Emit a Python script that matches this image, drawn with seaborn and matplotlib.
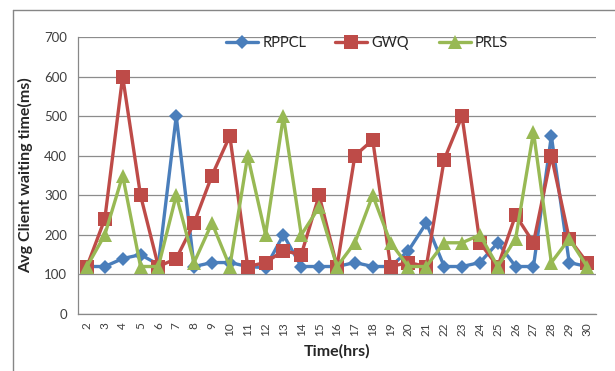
import matplotlib
matplotlib.use("Agg")
import matplotlib.pyplot as plt
import seaborn as sns
import pandas as pd
from matplotlib.lines import Line2D
from matplotlib.ticker import FixedLocator

hours = list(range(2, 31))
rppcl = [120, 120, 140, 150, 125, 500, 120, 130, 130, 120, 117, 200, 120, 120,
         120, 130, 120, 120, 160, 230, 120, 120, 130, 180, 120, 120, 450, 130, 120]
gwq = [120, 240, 600, 300, 120, 140, 230, 350, 450, 120, 130, 160, 150, 300,
       120, 400, 440, 120, 130, 120, 390, 500, 180, 120, 250, 180, 400, 190, 130]
prls = [120, 200, 350, 120, 120, 300, 130, 230, 120, 400, 200, 500, 200, 270,
        120, 180, 300, 180, 120, 120, 180, 180, 200, 120, 190, 460, 130, 190, 120]
series_names = ["RPPCL", "GWQ", "PRLS"]

df = pd.DataFrame({"Time": hours, "RPPCL": rppcl, "GWQ": gwq, "PRLS": prls})
long = df.melt(id_vars="Time", var_name="Series", value_name="Wait")

sns.set_style("white")
plt.rcParams["font.family"] = ["Lato", "DejaVu Sans"]

fig = plt.figure(figsize=(6.15, 3.71), dpi=100)
ax = fig.add_axes([78/615, 1-314/371, (596-78)/615, (314-37)/371])

palette = {"RPPCL": "#4A7EBB", "GWQ": "#BE4B48", "PRLS": "#98B954"}
markers = {"RPPCL": "D", "GWQ": "s", "PRLS": "^"}
sizes_m = {"RPPCL": 7.5, "GWQ": 10, "PRLS": 10.5}
for name in series_names:
    sub = long[long["Series"] == name]
    sns.lineplot(data=sub, x="Time", y="Wait", ax=ax, color=palette[name],
                 marker=markers[name], markersize=sizes_m[name],
                 markeredgewidth=0, linewidth=2.4, label=name)

ax.set_xlim(1.5, 30.5)
ax.set_ylim(0, 700)
ax.set_yticks(range(0, 701, 100))
ax.set_xticks(hours)
ax.set_xticklabels([str(h) for h in hours], rotation=90, fontsize=8.5, color="#404040")
ax.xaxis.set_minor_locator(FixedLocator([h + 0.5 for h in range(1, 31)]))
ax.tick_params(axis="x", which="major", length=0, pad=6)
ax.tick_params(axis="x", which="minor", length=4, width=0.8, color="#888888", direction="out")
ax.tick_params(axis="y", length=4, width=0.8, color="#888888", direction="out",
               labelsize=9.5, labelcolor="#404040", pad=4)
ax.yaxis.grid(True, color="#8C8C8C", linewidth=0.9)
ax.xaxis.grid(False)
for s in ["top", "right"]:
    ax.spines[s].set_visible(False)
for s in ["left", "bottom"]:
    ax.spines[s].set_color("#888888")
    ax.spines[s].set_linewidth(0.9)

ax.set_xlabel("Time(hrs)", fontsize=11.5, fontweight="bold", labelpad=6)
ax.set_ylabel("Avg Client waiting time(ms)", fontsize=11.5, fontweight="bold", labelpad=8)

leg = ax.legend(loc="center", bbox_to_anchor=((367-78)/518, (314-43)/277), ncol=3,
                frameon=False, fontsize=10.5, handlelength=2.2, columnspacing=2.0,
                handletextpad=0.3)
for t in leg.get_texts():
    t.set_color("#262626")

# chart-area border
fig.add_artist(Line2D([13/615, 13/615], [0, 1-10/371], transform=fig.transFigure,
                      color="#868686", linewidth=1))
fig.add_artist(Line2D([13/615, 1], [1-10/371, 1-10/371], transform=fig.transFigure,
                      color="#868686", linewidth=1))

fig.savefig("out.png", dpi=100)
